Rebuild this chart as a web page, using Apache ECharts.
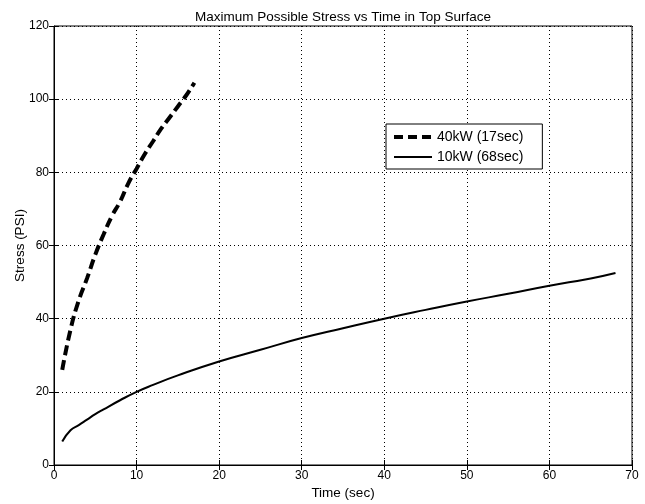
<!DOCTYPE html>
<html>
<head>
<meta charset="utf-8">
<script src="https://cdn.jsdelivr.net/npm/echarts@6/dist/echarts.min.js"></script>
<style>
  html, body { margin: 0; padding: 0; background: #fff; }
  #chart { width: 645px; height: 504px; }
</style>
</head>
<body>
<div id="chart"></div>
<script>
  // 40kW run, 17 seconds
  const time40 = [1, 2, 3, 4, 5, 6, 7, 8, 9, 10, 11, 12, 13, 14, 15, 16, 17]
  const stress40 = [26, 37, 45, 51, 57.5, 63, 68, 72, 77, 81, 85, 88.5, 92, 95, 98, 101, 104.5]
  // 10kW run, 68 seconds
  const time10 = [1, 2, 3, 4, 5, 6, 8, 10, 12, 15, 20, 25, 30, 35, 40, 45, 50, 55, 60, 65, 68]
  const stress10 = [6.4, 9.5, 10.9, 12.4, 13.9, 15.2, 17.7, 20, 21.9, 24.5, 28.3, 31.5, 34.7, 37.4, 40, 42.4, 44.7, 46.8, 49, 51, 52.5]

  const font = 'Liberation Sans, Arial, sans-serif'

  function pairs(xs, ys) {
    return xs.map((x, i) => [x, ys[i]])
  }

  const chart = echarts.init(document.getElementById('chart'))
  chart.setOption({
    animation: false,
    title: {
      text: 'Maximum Possible Stress vs Time in Top Surface',
      left: 338,
      textAlign: 'center',
      top: 5,
      textStyle: { fontFamily: font, fontSize: 13.5, fontWeight: 'normal', color: '#000' }
    },
    legend: {
      left: 386,
      top: 124,
      orient: 'vertical',
      itemWidth: 38,
      itemHeight: 10,
      itemGap: 6,
      padding: [6, 19, 5, 6],
      borderColor: '#000',
      borderWidth: 1,
      backgroundColor: '#fff',
      itemStyle: { opacity: 0 },
      textStyle: { fontFamily: font, fontSize: 14, color: '#000' },
      data: [
        { name: '40kW (17sec)', lineStyle: { width: 4, type: [9, 5] } },
        { name: '10kW (68sec)', lineStyle: { width: 2 } }
      ]
    },
    grid: {
      left: 54, right: 13, top: 26, bottom: 39,
      outerBoundsMode: 'none',
      show: true, borderColor: '#000', borderWidth: 1
    },
    xAxis: [{
      type: 'value', min: 0, max: 70, interval: 10,
      name: 'Time (sec)', nameLocation: 'middle', nameGap: 21, nameMoveOverlap: false,
      nameTextStyle: { fontFamily: font, fontSize: 13.5, color: '#000' },
      axisLine: { show: true, lineStyle: { color: '#000' } },
      axisTick: { inside: true, length: 5, lineStyle: { color: '#000' } },
      axisLabel: { fontFamily: font, fontSize: 12, color: '#000', margin: 5 },
      splitLine: { show: true, lineStyle: { color: '#000', type: [1, 3] } }
    }, {
      type: 'value', min: 0, max: 70, interval: 10, position: 'top',
      axisLine: { show: false },
      axisTick: { inside: true, length: 5, lineStyle: { color: '#000' } },
      axisLabel: { show: false },
      splitLine: { show: false }
    }],
    yAxis: [{
      type: 'value', min: 0, max: 120, interval: 20,
      name: 'Stress (PSI)', nameLocation: 'middle', nameGap: 27, nameMoveOverlap: false,
      nameTextStyle: { fontFamily: font, fontSize: 13.5, color: '#000' },
      axisLine: { show: true, lineStyle: { color: '#000' } },
      axisTick: { inside: true, length: 5, lineStyle: { color: '#000' } },
      axisLabel: { fontFamily: font, fontSize: 12, color: '#000', margin: 5 },
      splitLine: { show: true, lineStyle: { color: '#000', type: [1, 3] } }
    }, {
      type: 'value', min: 0, max: 120, interval: 20, position: 'right',
      axisLine: { show: false },
      axisTick: { show: true, inside: true, length: 5, lineStyle: { color: '#000' } },
      axisLabel: { show: false },
      splitLine: { show: false }
    }],
    series: [{
      name: '40kW (17sec)',
      type: 'line',
      symbol: 'none',
      smooth: true,
      data: pairs(time40, stress40),
      lineStyle: { color: '#000', width: 4, type: [10, 5] },
      itemStyle: { color: '#000' }
    }, {
      name: '10kW (68sec)',
      type: 'line',
      symbol: 'none',
      smooth: true,
      data: pairs(time10, stress10),
      lineStyle: { color: '#000', width: 2 },
      itemStyle: { color: '#000' }
    }]
  })
</script>
</body>
</html>
